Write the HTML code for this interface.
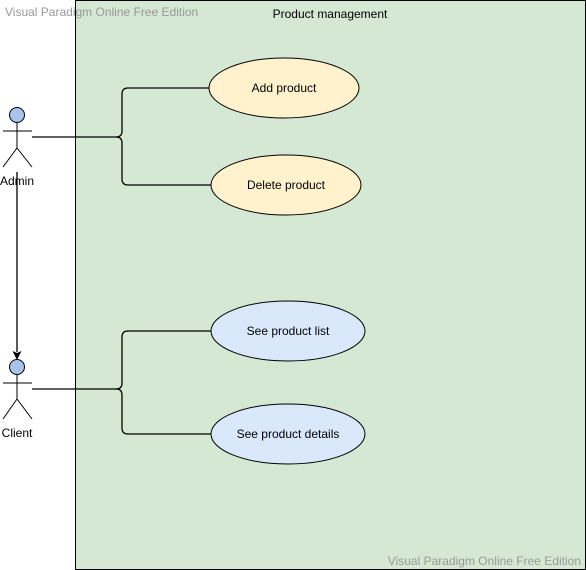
<!DOCTYPE html>
<html><head><style>body{margin:0;background:#fff}svg{display:block}</style></head><body>
<svg width="586" height="570" xmlns="http://www.w3.org/2000/svg" font-family="Liberation Sans, Arial, sans-serif">
<rect x="75.5" y="0.5" width="510" height="569" fill="#d5e8d4" stroke="#000"/>
<text x="330" y="18" font-size="12" text-anchor="middle">Product management</text>
<text x="5" y="16" font-size="12" fill="#999">Visual Paradigm Online Free Edition</text>
<text x="581" y="565" font-size="12" fill="#999" text-anchor="end">Visual Paradigm Online Free Edition</text>
<g fill="none" stroke="#000" stroke-width="1.3">
<path d="M32 137 H116 Q122 137 122 131 V94 Q122 88 128 88 H209"/>
<path d="M116 137 Q122 137 122 143 V179 Q122 185 128 185 H211"/>
<path d="M32 389 H116 Q122 389 122 383 V337 Q122 331 128 331 H211"/>
<path d="M116 389 Q122 389 122 395 V428 Q122 434 128 434 H211"/>
<path d="M17 172 V352"/>
</g>
<path d="M12.5 351 L17 360 L21.5 351 L17 353 Z" fill="#000"/>
<g stroke="#000" stroke-width="1">
<circle cx="17" cy="115" r="7.5" fill="#a9c4eb"/>
<path d="M17 122.5 V148 M3 131 H32 M17 148 L3 167 M17 148 L32 167" fill="none"/>
<circle cx="17" cy="367" r="7.5" fill="#a9c4eb"/>
<path d="M17 374.5 V399 M3 383 H32 M17 399 L3 419 M17 399 L32 419" fill="none"/>
</g>
<text x="17" y="185" font-size="12" text-anchor="middle">Admin</text>
<text x="17" y="437" font-size="12" text-anchor="middle">Client</text>
<g stroke="#000" stroke-width="1">
<ellipse cx="284" cy="88" rx="75" ry="30" fill="#fff2cc"/>
<ellipse cx="286" cy="185" rx="75" ry="30" fill="#fff2cc"/>
<ellipse cx="288" cy="331" rx="77" ry="30" fill="#dae8fc"/>
<ellipse cx="288" cy="434" rx="77" ry="30" fill="#dae8fc"/>
</g>
<g font-size="12" text-anchor="middle">
<text x="284" y="92">Add product</text>
<text x="286" y="189">Delete product</text>
<text x="288" y="335">See product list</text>
<text x="288" y="438">See product details</text>
</g>
</svg>
</body></html>
